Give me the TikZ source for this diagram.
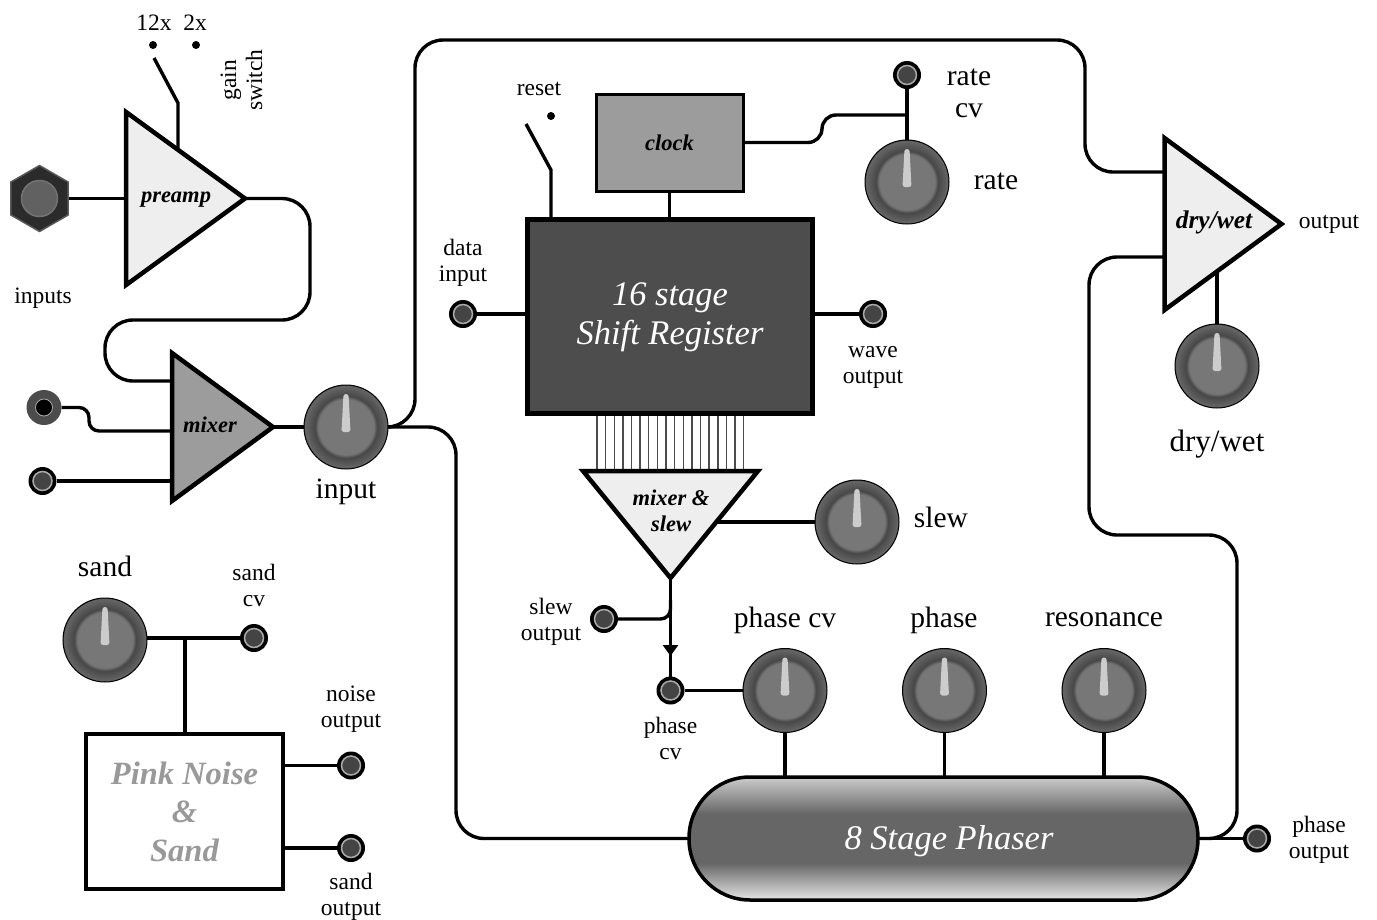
\documentclass[tikz,border=0pt]{standalone}
\usepackage{fontspec}
\setmainfont{Liberation Serif}
\usetikzlibrary{arrows.meta, positioning, backgrounds, shapes.geometric}
\definecolor{knobdisc}{HTML}{777777}
\definecolor{ampgray}{HTML}{9C9C9C}
\definecolor{amplight}{HTML}{EEEEEE}
\definecolor{regdark}{HTML}{4D4D4D}
\definecolor{jackcore}{HTML}{444444}
\definecolor{jackring}{HTML}{AAAAAA}
\pgfdeclareradialshading{knobshade}{\pgfpoint{0bp}{0bp}}{
  color(0bp)=(knobdisc); color(16.5bp)=(knobdisc); color(18.5bp)=(black!72);
  color(24.5bp)=(black!60); color(25bp)=(black!70); color(50bp)=(black!70)}
\pgfdeclareverticalshading{phasershade}{100bp}{
  color(0bp)=(black!10); color(25bp)=(black!10); color(40bp)=(black!60);
  color(60bp)=(black!60); color(75bp)=(black!20); color(100bp)=(black!20)}
\tikzset{
  wire/.style={line width=3.4pt, black, line cap=butt},
  curvewire/.style={wire, rounded corners=28pt},
  combline/.style={line width=1.4pt, black!70},
  smalllabel/.style={align=center, font=\fontsize{23.5}{26}\selectfont, inner sep=0pt},
  knoblabel/.style={align=center, font=\fontsize{29.5}{33}\selectfont, inner sep=0pt},
  amplabel/.style={align=center, font=\fontsize{22.5}{26}\selectfont\itshape\bfseries, inner sep=0pt},
  biglabel/.style={align=center, font=\fontsize{34.5}{38.5}\selectfont\itshape, inner sep=0pt},
  amp/.style={isosceles triangle, isosceles triangle stretches, draw=black, line width=4.5pt,
    inner sep=0pt, outer sep=0pt, anchor=lower side, fill=amplight},
  switchdot/.style={circle, fill=black, minimum size=8pt, inner sep=0pt, outer sep=0pt},
  jack/.style={circle, fill=black, minimum size=28pt, inner sep=0pt, outer sep=0pt,
    path picture={\fill[jackcore, draw=jackring, line width=1.5pt]
      (path picture bounding box.center) circle (9.5pt);}},
  knob/.style={circle, draw=black, line width=1pt, minimum size=84pt, inner sep=0pt, outer sep=0pt,
    shading=knobshade,
    path picture={\fill[black!20, rounded corners=2.5pt, shift={(path picture bounding box.center)}]
      (-2.5,-33) -- (2.5,-33) -- (4.5,5) -- (-4.5,5) -- cycle;}},
}
\begin{document}
\begin{tikzpicture}[x=1pt, y=-1pt, node distance=75.5pt]
  \useasboundingbox (0,0) rectangle (1377,919);
  % amplifiers
  \node[amp, minimum height=119pt, minimum width=173pt] (preamp) at (126,198.5) {};
  \node[amp, fill=ampgray, minimum height=101pt, minimum width=148pt] (mixer) at (172,427) {};
  \node[amp, minimum height=117pt, minimum width=172pt] (drywet) at (1164.5,224) {};
  \node[amp, shape border rotate=270, minimum height=107pt, minimum width=175pt] (mixslew) at (670.5,471) {};
  \node[amplabel] (preamplabel) at (176,200) {preamp};
  \node[amplabel] (mixerlabel) at (210,425) {mixer};
  \node[amplabel, font=\fontsize{25.5}{26}\selectfont\itshape\bfseries] (drywetlabel) at (1214,222) {dry/wet};
  \node[amplabel] (mixslewlabel) at (671,511) {mixer \&\\slew};
  % input side
  \node[regular polygon, regular polygon sides=6, regular polygon rotate=30, minimum size=66pt,
    inner sep=0pt, outer sep=0pt, fill=black!83, draw=black!65, line width=1.5pt] (injack) at (39.5,198.5) {};
  \node[circle, minimum size=36pt, inner sep=0pt, fill=black!62, draw=black!55, line width=1.5pt]
    (injackcore) at (injack.center) {};
  \node[smalllabel] (inputslabel) at (43,298.5) {inputs};
  \node[circle, minimum size=35pt, inner sep=0pt, outer sep=0pt, fill=black!70,
    path picture={\fill[black, draw=jackring, line width=.8pt]
      (path picture bounding box.center) circle (8.5pt);}] (auxjack) at (44,407.5) {};
  \node[jack] (linejack) at (42.5,481) {};
  \node[knob] (inputknob) at (346,427) {};
  \node[knoblabel, below=10pt of inputknob] (inputknoblabel) {input};
  % gain switch
  \node[switchdot] (gaindot) at (153,45) {};
  \node[switchdot] (gainalt) at (196,45) {};
  \node[smalllabel, above=10pt of gaindot, xshift=1pt] (gainlabel) {12x};
  \node[smalllabel, above=10pt of gainalt, xshift=-1pt] (altlabel) {2x};
  \node[smalllabel, rotate=90] (switchlabel) at (241.5,80) {gain\\switch};
  \coordinate (gainfree) at (154,58);
  \coordinate (gainknee) at (178,103);
  % shift register
  \node[draw=black, line width=5pt, fill=regdark, minimum width=285pt,
    minimum height=194pt, outer sep=0pt] (register) at (670,316) {};
  \node[biglabel, text=white] (registerlabel) at (670,317) {16 stage\\Shift Register};
  \node[draw=black, line width=3pt, fill=ampgray, amplabel, minimum width=147pt,
    minimum height=97pt, outer sep=0pt] (clock) at (669.5,142.5) {clock};
  \node[switchdot] (resetdot) at (551,116) {};
  \node[smalllabel] (resetlabel) at (539,88.5) {reset};
  \coordinate (resetfree) at (526,124);
  \coordinate (resetknee) at (551,170);
  \node[jack] (datajack) at (463,314) {};
  \node[smalllabel, above=13pt of datajack] (datalabel) {data\\input};
  \node[jack] (wavejack) at (873,314) {};
  \node[smalllabel, below=18pt of wavejack] (wavelabel) {wave\\output};
  \node[jack] (ratejack) at (907,75) {};
  \node[knob] (rateknob) at (907,182) {};
  \node[knoblabel, font=\fontsize{29.5}{32}\selectfont] (ratecvlabel) at (969,93.5) {rate\\cv};
  \node[knoblabel] (ratelabel) at (996,181) {rate};
  % slew and phase row
  \node[knob] (slewknob) at (857,522) {};
  \node[knoblabel] (slewlabel) at (941,517) {slew};
  \node[jack] (slewjack) at (604,619) {};
  \node[smalllabel] (slewoutlabel) at (551,621.5) {slew\\output};
  \node[jack] (phasejack) at (670.5,690.5) {};
  \node[smalllabel, below=12pt of phasejack] (phasecvjacklabel) {phase\\cv};
  \node[knob] (phasecvknob) at (785,690.5) {};
  \node[knob, right=of phasecvknob] (phaseknob) {};
  \node[knob, right=of phaseknob] (resknob) {};
  \node[knoblabel] (phasecvlabel) at (785,620) {phase cv};
  \node[knoblabel] (phaselabel) at (944,620) {phase};
  \node[knoblabel] (reslabel) at (1104,620) {resonance};
  \node[draw=black, line width=3.5pt, shading=phasershade, minimum width=509pt,
    minimum height=123pt, rounded corners=61pt, outer sep=0pt] (phaser) at (943.5,838.5) {};
  \node[biglabel, text=white] (phaserlabel) at (949,841) {8 Stage Phaser};
  \node[jack] (phaseoutjack) at (1257,838.5) {};
  \node[smalllabel] (phaseoutlabel) at (1319,840) {phase\\output};
  % dry/wet
  \node[knob] (drywetknob) at (1217,366) {};
  \node[knoblabel, font=\fontsize{31}{32}\selectfont] (drywetknoblabel) at (1217,444) {dry/wet};
  \node[smalllabel] (outputlabel) at (1329,224) {output};
  % noise
  \node[draw=black, line width=3.5pt, fill=white, text=black!40, biglabel,
    font=\fontsize{32.5}{38.5}\selectfont\itshape\bfseries, minimum width=197pt,
    minimum height=155pt, outer sep=0pt] (noise) at (184.5,811.5) {Pink Noise\\\&\\Sand};
  \node[knob] (sandknob) at (105,640) {};
  \node[knoblabel] (sandlabel) at (105,566) {sand};
  \node[jack] (sandjack) at (254,638) {};
  \node[smalllabel] (sandcvlabel) at (254,585.5) {sand\\cv};
  \node[jack] (noisejack) at (351,765.5) {};
  \node[smalllabel, above=19pt of noisejack] (noiselabel) {noise\\output};
  \node[jack] (sandoutjack) at (351,848) {};
  \node[smalllabel, below=11pt of sandoutjack] (sandoutlabel) {sand\\output};
  % connectors
  \begin{scope}[on background layer]
    \draw[wire] (injack) -- (preamp.lower side);
    \draw[wire, line join=round] (gainfree) -- (gainknee) -- (178,198);
    \draw[curvewire] (preamp.apex) -- (310,198.5) -- (310,320) -- (105,320) -- (105,381) -- (190,381);
    \draw[wire, rounded corners=10pt] (auxjack) -- (89,407.5) -- (89,431) -- (190,431);
    \draw[wire] (linejack) -- (190,481);
    \draw[wire] (mixer.apex) -- (inputknob);
    \draw[curvewire] (inputknob.east) -- (415,427) -- (415,40) -- (1085,40) -- (1085,172) -- (1190,172);
    \draw[curvewire] (inputknob.east) -- (456,427) -- (456,838.5) -- (phaser.west);
    \draw[curvewire] (1190,257) -- (1089,257) -- (1089,535) -- (1237,535) -- (1237,838.5) -- (phaser.east);
    \draw[wire] (phaser.east) -- (phaseoutjack);
    \draw[wire] (1217,260) -- (drywetknob);
    \draw[wire, line join=round] (resetfree) -- (resetknee) -- (551,230);
    \draw[wire] (clock.south) -- (clock.south |- register.north);
    \draw[wire, rounded corners=14pt] (clock.east) -- (822,142.5) -- (822,115) -- (907,115);
    \draw[wire] (ratejack) -- (rateknob);
    \draw[wire] (datajack) -- (register.west |- datajack);
    \draw[wire] (register.east |- wavejack) -- (wavejack);
    \foreach \i in {0,...,17}
      \draw[combline] (597+\i*8.63,413) -- (597+\i*8.63,470);
    \draw[wire] (700,522) -- (slewknob);
    \draw[wire, -{Triangle[length=11pt, width=15pt]}] (mixslew.apex) -- (670.5,656);
    \draw[wire] (670.5,650) -- (phasejack);
    \draw[wire, rounded corners=10pt] (slewjack) -- (670.5,619) -- (670.5,600);
    \draw[wire] (phasejack) -- (phasecvknob);
    \draw[wire] (phasecvknob) -- (phasecvknob |- phaser.north);
    \draw[wire] (phaseknob) -- (phaseknob |- phaser.north);
    \draw[wire] (resknob) -- (resknob |- phaser.north);
    \draw[wire] (sandknob.east |- sandjack) -- (sandjack);
    \draw[wire] (185,638) -- (noise.north -| 185,0);
    \draw[wire] (noise.east |- noisejack) -- (noisejack);
    \draw[wire] (noise.east |- sandoutjack) -- (sandoutjack);
  \end{scope}
\end{tikzpicture}
\end{document}
